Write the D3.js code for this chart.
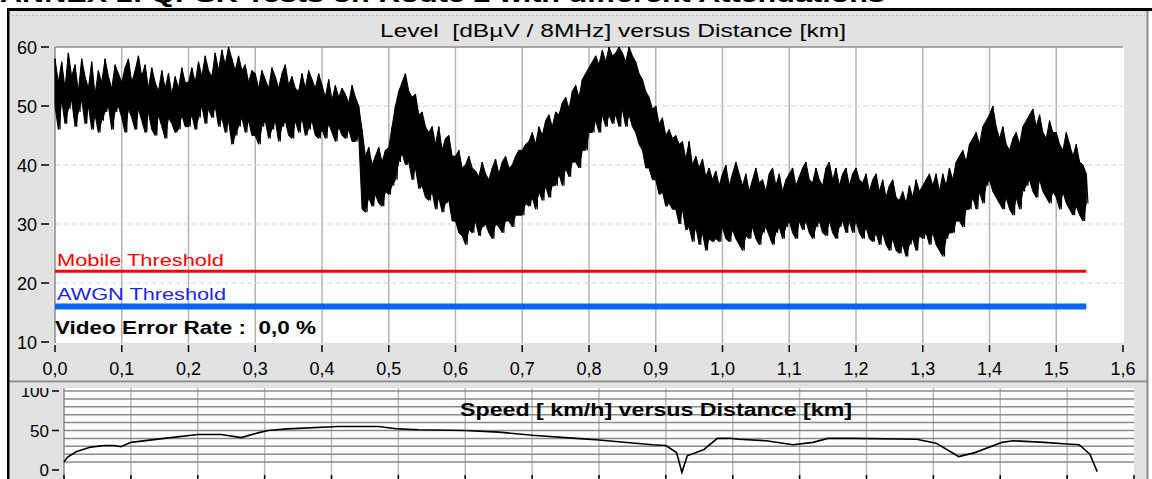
<!DOCTYPE html>
<html><head><meta charset="utf-8">
<script src="https://cdn.jsdelivr.net/npm/d3@7"></script>
<style>
html,body{margin:0;padding:0;background:#fff;overflow:hidden}
svg{display:block}
text{font-family:"Liberation Sans",Arial,sans-serif;white-space:pre}
</style></head><body>
<svg id="c" width="1152" height="479"></svg>
<script>
// ---------- data ----------
const docTitle = "ANNEX 1: QPSK Tests on Route 2 with different Attenuations";
const levelTitle = "Level  [dBµV / 8MHz] versus Distance [km]";
const speedTitle = "Speed [ km/h] versus Distance [km]";
const xTickValues = [0,0.1,0.2,0.3,0.4,0.5,0.6,0.7,0.8,0.9,1.0,1.1,1.2,1.3,1.4,1.5,1.6];
const xTickLabels = ["0,0","0,1","0,2","0,3","0,4","0,5","0,6","0,7","0,8","0,9","1,0","1,1","1,2","1,3","1,4","1,5","1,6"];
const levelTicks = [10,20,30,40,50,60];
const speedTicks = [0,50,100];
const mobileThreshold = 22;
const awgnThreshold = 16;
const thresholdEndKm = 1.545;
const videoErrorText = "Video Error Rate :  0,0 %";

// level samples every 0.005 km : per-sample max and min (dBµV)
const levelStepKm = 0.005;
const levelHi = [
58,54,57.5,53,59,55,57,52.5,58,55,53,57.5,52,56,54,58,55,53,57,55.5,
54,56.5,58,54,56,58.5,55,57,53,56.5,54,52.5,56,53,55.5,52,55,53,56.5,54,
54,56.5,54,57.5,55,58.5,56,55,59,56,59.5,57,60,58,56,58.5,56,57,54,56,
55.5,53,56,54.5,53,56.5,55,53,55.5,57,53.5,55,53,52.5,55.5,53,56,54.5,53,55.5,
53.5,51.5,54.5,51,53.5,51.5,53,52,50.5,53.5,51.5,50,46,41.5,43,40,41.5,43,40.5,42.5,
43,46.5,50,52.5,54,55.5,52.5,51.5,52,48.5,49,46.5,45.5,46.5,43.5,46.5,42.5,44.5,45,41.5,
41.5,42.5,39.5,40,41.5,39.5,39,38,40.5,38.5,37.5,39.5,41,38.5,40.5,41.5,39.5,40,41.5,42.5,
42.5,43.5,44,45.5,43.5,46.5,45,47.5,48.5,46.5,49,48.5,50.5,51.5,49.5,52.5,53.5,51.5,54.5,55.5,
56.5,57.5,58.5,57,59.5,57.5,60,58.5,59,60,59,57.5,60,58.5,57.5,55.5,54.5,52.5,51.5,49.5,
50,47,48,45,46,44.5,45,43.5,44,41,44,40,41.5,39.5,41,38,39.5,37.5,39,36.5,
38.5,40,36.5,38.5,40.5,38.5,36.5,38.5,35.5,37.5,39.5,37,37.5,35.5,38.5,39.5,36.5,38.5,35.5,37.5,
38.5,39.5,36.5,38,39.5,40.5,37.5,37,39.5,37.5,36.5,39.5,40.5,37.5,39.5,36.5,38.5,39.5,36.5,38.5,
39.5,37.5,37,38.5,35.5,37.5,38.5,35.5,37.5,34.5,36.5,37.5,34.5,34,35.5,33.5,36.5,34.5,37.5,35.5,
36.5,37.5,38.5,36.5,38.5,35.5,38.5,36.5,39.5,37.5,40.5,41.5,42.5,40.5,43.5,44.5,45.5,43.5,46.5,47.5,
48.5,50,46.5,44.5,46.5,43.5,42.5,44.5,45.5,43.5,46.5,47.5,48.5,49.5,46.5,48.5,45.5,44.5,47.5,45.5,
45.5,43.5,42.5,45.5,43.5,41.5,43.5,40.5,40,38.5
];
const levelLo = [
50,46,51,47,49.5,51,46.5,49,51,47,50,46,48.5,45.5,47.5,49,50,46,49,50,
48,45.5,49.5,48,46,49.5,47.5,45.5,49,46,45,48.5,46.5,44.5,48,47,45.5,46,48.5,46.5,
46.5,48.5,46,48,50,47,49.5,48,50,46.5,48,45.5,47.5,43.5,45,46.5,48,45.5,47.5,45,
45,43.5,46.5,47.5,44.5,46,47.5,44,46.5,47.5,45,44.5,47.5,45.5,48,45,46,47.5,45,44.5,
46,44.5,47,45.5,44,46.5,45,44.5,46,44,44,45,32.5,32,34.5,33,35,33.5,33,35.5,
35,36.5,37.5,40.5,42,40,40.5,37.5,39.5,36,36.5,34.5,34,35.5,32.5,34.5,32,33.5,34,30.5,
30.5,28.5,28,26.5,29,28.5,30.5,28,29.5,30,28.5,27.5,30,29.5,28.5,30.5,30.5,29.5,31.5,31.5,
31.5,33.5,33,34.5,32.5,35.5,34,36.5,34.5,36.5,36.5,38.5,36.5,39.5,38,40.5,40.5,39.5,42.5,42.5,
45.5,45.5,47.5,45.5,48.5,46.5,48.5,47,48.5,46.5,49.5,46.5,48.5,46.5,45.5,43.5,42.5,39.5,39.5,37.5,
37.5,35,35.5,33,33.5,32.5,32.5,30,32.5,29,29.5,27,29.5,26.5,28.5,25.5,27.5,27,27.5,27,
29.5,27.5,27,29,27.5,26.5,25.5,28,27.5,29.5,27.5,26.5,28.5,29.5,28,26.5,28.5,29.5,27.5,29.5,
30.5,28.5,27.5,30.5,29,30.5,28.5,27.5,29.5,30.5,28.5,28,30.5,28.5,27.5,29.5,30.5,28.5,30.5,28.5,
30.5,28.5,27.5,29.5,27.5,27,28.5,26.5,28.5,26.5,25.5,27.5,25.5,25,26.5,24.5,26.5,27.5,25.5,28,
27.5,28.5,26.5,28.5,26.5,25.5,24.5,27.5,28.5,28.5,30.5,30.5,29.5,32.5,32.5,34.5,32.5,35.5,33.5,36.5,
37.5,35.5,34.5,33.5,32.5,34.5,32.5,31.5,34.5,32.5,35.5,36.5,37.5,35.5,34.5,37.5,35.5,34.5,33.5,35.5,
34.5,32.5,35.5,33.5,32.5,31.5,33,31.5,30.5,33.5
];

// speed profile (km, km/h)
const speedDist = [0,0.005,0.018,0.04,0.06,0.075,0.085,0.1,0.15,0.2,0.235,0.265,0.29,0.305,0.334,0.41,0.47,0.5,0.53,0.6,0.65,0.7,0.766,0.8,0.825,0.88,0.9,0.916,0.924,0.932,0.957,0.977,0.997,1.009,1.05,1.09,1.12,1.142,1.177,1.275,1.304,1.332,1.338,1.362,1.403,1.419,1.466,1.5,1.518,1.534,1.545];
const speedVal  = [10,16,23,29,31,31,29.5,35,40,45,45,41,47,50,52,55,55,52,51,50,48,44,40,38,36,32,31,22,-3,18,26,40,40,39,37,32,35,40,40,39,34,20,17,22,35,37,35,33,32,20,-2];

// ---------- drawing ----------
const svg = d3.select("#c");
const W = 1152, H = 479;

// document title (partially cut off at the top)
svg.append("text").attr("x",0).attr("y",2)
  .attr("font-family","'Liberation Serif','Times New Roman',serif")
  .attr("font-weight","bold").attr("font-size",22)
  .attr("textLength",885).attr("lengthAdjust","spacingAndGlyphs")
  .text(docTitle);

// panels
svg.append("rect").attr("x",9).attr("y",10).attr("width",1138).attr("height",371).attr("fill","#e2e2e2");
svg.append("rect").attr("x",9).attr("y",383).attr("width",1138).attr("height",96).attr("fill","#e2e2e2");
svg.append("line").attr("x1",12).attr("x2",1145).attr("y1",15.5).attr("y2",15.5)
  .attr("stroke","#c4c4c4").attr("stroke-dasharray","2,2");
svg.append("line").attr("x1",9).attr("x2",1147).attr("y1",381.5).attr("y2",381.5).attr("stroke","#8c8c8c").attr("stroke-width",2);
svg.append("line").attr("x1",1147.5).attr("x2",1147.5).attr("y1",10).attr("y2",H).attr("stroke","#8c8c8c").attr("stroke-width",2);
svg.append("rect").attr("x",7).attr("y",8).attr("width",W-7).attr("height",3).attr("fill","#000");
svg.append("rect").attr("x",7).attr("y",8).attr("width",2.5).attr("height",H-8).attr("fill","#000");

// ---------- level chart ----------
const xL = d3.scaleLinear().domain([0,1.6]).range([55,1123]);
const yL = d3.scaleLinear().domain([10,60]).range([342,47]);
const gL = svg.append("g");
gL.append("rect").attr("x",xL(0)).attr("y",yL(60)).attr("width",xL(1.6)-xL(0)+1).attr("height",yL(10)-yL(60)+1).attr("fill","#fff");

// grid
gL.selectAll("line.vg").data(xTickValues.filter(v=>v>0 && v<1.6)).join("line")
  .attr("x1",d=>xL(d)).attr("x2",d=>xL(d)).attr("y1",yL(60)).attr("y2",yL(10)+1)
  .attr("stroke","#b4b4b4").attr("stroke-width",1.5);
gL.selectAll("line.hg").data(levelTicks.filter(v=>v>10 && v<60)).join("line")
  .attr("x1",xL(0)).attr("x2",xL(1.6)).attr("y1",d=>yL(d)).attr("y2",d=>yL(d))
  .attr("stroke","#d2d2d2").attr("stroke-width",1.2).attr("stroke-dasharray","5,3");
gL.append("line").attr("x1",xL(0)).attr("x2",xL(1.6)).attr("y1",yL(60)).attr("y2",yL(60))
  .attr("stroke","#8c8c8c").attr("stroke-width",1.5);
gL.append("line").attr("x1",xL(0)).attr("x2",xL(0)).attr("y1",yL(60)).attr("y2",yL(10)+1)
  .attr("stroke","#8c8c8c").attr("stroke-width",1.5);

// thresholds
gL.append("line").attr("x1",xL(0)).attr("x2",xL(thresholdEndKm)).attr("y1",yL(mobileThreshold)).attr("y2",yL(mobileThreshold))
  .attr("stroke","#ff0000").attr("stroke-width",3);
gL.append("line").attr("x1",xL(0)).attr("x2",xL(thresholdEndKm)).attr("y1",yL(awgnThreshold)).attr("y2",yL(awgnThreshold))
  .attr("stroke","#0a64f5").attr("stroke-width",6);

// level trace: band between per-sample min and max, with a zig-zag outline
const levelRows = levelHi.map((h,i)=>({d:i*levelStepKm, hi:h, lo:levelLo[i]}));
gL.append("path").datum(levelRows)
  .attr("d",d3.area().x(r=>xL(r.d)).y0(r=>yL(r.lo)).y1(r=>yL(r.hi)))
  .attr("fill","#000").attr("stroke","#000").attr("stroke-width",1);
const pts = [];
levelRows.forEach(r=>{
  pts.push([xL(r.d), yL(r.hi)]);
  pts.push([xL(r.d+levelStepKm/2), yL(r.lo)]);
});
gL.append("path").attr("d",d3.line()(pts)).attr("fill","none").attr("stroke","#000").attr("stroke-width",1.2);

// labels inside plot
gL.append("text").attr("x",57).attr("y",266).attr("font-size",17).attr("fill","#ff0000")
  .attr("textLength",167).attr("lengthAdjust","spacingAndGlyphs").text("Mobile Threshold");
gL.append("text").attr("x",57).attr("y",300).attr("font-size",17).attr("fill","#1f1fff")
  .attr("textLength",169).attr("lengthAdjust","spacingAndGlyphs").text("AWGN Threshold");
gL.append("text").attr("x",55).attr("y",334).attr("font-size",18).attr("font-weight","bold").attr("fill","#000")
  .attr("textLength",261).attr("lengthAdjust","spacingAndGlyphs").text(videoErrorText);

// y axis ticks
gL.selectAll("text.yl").data(levelTicks).join("text")
  .attr("x",37).attr("y",d=>yL(d)+6.5).attr("text-anchor","end").attr("font-size",18).text(d=>d);
gL.selectAll("line.yt").data(levelTicks).join("line")
  .attr("x1",41).attr("x2",49).attr("y1",d=>yL(d)).attr("y2",d=>yL(d)).attr("stroke","#000").attr("stroke-width",1.5);
// x axis ticks
gL.selectAll("line.xt").data(xTickValues).join("line")
  .attr("x1",d=>xL(d)).attr("x2",d=>xL(d)).attr("y1",345).attr("y2",352).attr("stroke","#000").attr("stroke-width",1.5);
gL.selectAll("text.xl").data(xTickValues).join("text")
  .attr("x",d=>xL(d)).attr("y",375).attr("text-anchor","middle").attr("font-size",18)
  .text((d,i)=>xTickLabels[i]);
// title
gL.append("text").attr("x",380).attr("y",37).attr("font-size",18)
  .attr("textLength",466).attr("lengthAdjust","spacingAndGlyphs").text(levelTitle);

// ---------- speed chart ----------
const xS = d3.scaleLinear().domain([0,1.6]).range([64,1134]);
const yS = d3.scaleLinear().domain([0,100]).range([470,391]);
const defs = svg.append("defs");
defs.append("clipPath").attr("id","spClip").append("rect").attr("x",9).attr("y",388).attr("width",1138).attr("height",91);
const gS = svg.append("g").attr("clip-path","url(#spClip)");
gS.append("rect").attr("x",xS(0)).attr("y",388).attr("width",xS(1.6)-xS(0)).attr("height",H-388).attr("fill","#fff");
gS.selectAll("line.vg").data(xTickValues.filter(v=>v>0 && v<1.6)).join("line")
  .attr("x1",d=>xS(d)).attr("x2",d=>xS(d)).attr("y1",388).attr("y2",H)
  .attr("stroke","#b8b8b8").attr("stroke-width",1.5);
gS.selectAll("line.hg").data(d3.range(10,101,10)).join("line")
  .attr("x1",xS(0)).attr("x2",xS(1.6)).attr("y1",d=>yS(d)).attr("y2",d=>yS(d))
  .attr("stroke","#8a8a8a").attr("stroke-width",1.5);
gS.append("line").attr("x1",xS(0)).attr("x2",xS(0)).attr("y1",388).attr("y2",H).attr("stroke","#8c8c8c").attr("stroke-width",1.5);
gS.append("text").attr("x",460).attr("y",416).attr("font-size",18).attr("font-weight","bold")
  .attr("textLength",392).attr("lengthAdjust","spacingAndGlyphs").text(speedTitle);
gS.append("path").datum(speedDist.map((d,i)=>[d,speedVal[i]]))
  .attr("d",d3.line().x(d=>xS(d[0])).y(d=>yS(d[1])))
  .attr("fill","none").attr("stroke","#000").attr("stroke-width",1.6);
gS.selectAll("text.yl").data(speedTicks).join("text")
  .attr("x",49).attr("y",d=>yS(d)+6).attr("text-anchor","end").attr("font-size",17).text(d=>d);
gS.selectAll("line.yt").data(speedTicks).join("line")
  .attr("x1",52).attr("x2",59).attr("y1",d=>yS(d)).attr("y2",d=>yS(d)).attr("stroke","#000").attr("stroke-width",1.5);
gS.selectAll("line.xt").data(xTickValues).join("line")
  .attr("x1",d=>xS(d)).attr("x2",d=>xS(d)).attr("y1",475).attr("y2",H).attr("stroke","#000").attr("stroke-width",1.5);
</script>
</body></html>
